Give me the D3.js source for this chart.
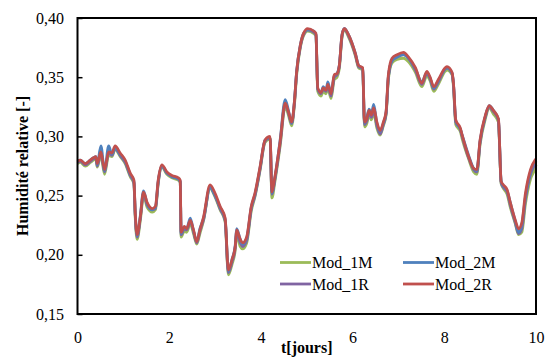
<!DOCTYPE html>
<html>
<head>
<meta charset="utf-8">
<script src="https://cdn.jsdelivr.net/npm/d3@7"></script>
<style>
  html, body { margin: 0; padding: 0; background: #fff; }
  svg { display: block; }
</style>
</head>
<body>
<svg id="chart" width="545" height="360"></svg>
<script>
// Time in days
const days = [
  0, 0.06, 0.17, 0.28, 0.35, 0.40, 0.43, 0.51, 0.59, 0.68,
  0.75, 0.82, 0.93, 1.04, 1.15, 1.23, 1.26, 1.30, 1.37, 1.44,
  1.52, 1.63, 1.70, 1.76, 1.84, 1.95, 2.06, 2.20, 2.24, 2.26,
  2.33, 2.38, 2.46, 2.53, 2.60, 2.67, 2.75, 2.89, 3.00, 3.11,
  3.22, 3.29, 3.37, 3.44, 3.47, 3.55, 3.60, 3.69, 3.79, 3.87,
  3.98, 4.09, 4.20, 4.24, 4.31, 4.42, 4.53, 4.60, 4.67, 4.73,
  4.78, 4.86, 4.93, 5.02, 5.15, 5.20, 5.24, 5.31, 5.36, 5.42,
  5.46, 5.53, 5.60, 5.66, 5.71, 5.77, 5.82, 5.91, 6.06, 6.13,
  6.22, 6.26, 6.31, 6.36, 6.41, 6.46, 6.53, 6.60, 6.67, 6.73,
  6.78, 6.86, 6.97, 7.11, 7.22, 7.37, 7.51, 7.62, 7.69, 7.77,
  7.87, 8.02, 8.06, 8.17, 8.20, 8.25, 8.35, 8.39, 8.53, 8.64,
  8.71, 8.78, 8.89, 8.98, 9.07, 9.18, 9.24, 9.29, 9.37, 9.44,
  9.55, 9.62, 9.69, 9.77, 9.88, 9.98, 10.0
];

const mod1M = [
  0.277, 0.278, 0.275, 0.278, 0.280, 0.281, 0.274, 0.284, 0.268, 0.284,
  0.283, 0.289, 0.283, 0.277, 0.266, 0.260, 0.231, 0.213, 0.229, 0.250,
  0.240, 0.236, 0.238, 0.260, 0.274, 0.268, 0.265, 0.263, 0.261, 0.215,
  0.220, 0.219, 0.226, 0.218, 0.209, 0.218, 0.229, 0.256, 0.249, 0.238,
  0.228, 0.183, 0.192, 0.204, 0.217, 0.207, 0.205, 0.210, 0.237, 0.249,
  0.271, 0.295, 0.298, 0.248, 0.263, 0.292, 0.325, 0.318, 0.309, 0.326,
  0.352, 0.375, 0.385, 0.389, 0.387, 0.385, 0.338, 0.334, 0.338, 0.336,
  0.341, 0.332, 0.348, 0.350, 0.357, 0.384, 0.390, 0.384, 0.368, 0.358,
  0.356, 0.308, 0.311, 0.318, 0.314, 0.320, 0.307, 0.301, 0.309, 0.318,
  0.348, 0.362, 0.365, 0.366, 0.363, 0.354, 0.342, 0.351, 0.347, 0.338,
  0.344, 0.355, 0.356, 0.352, 0.342, 0.310, 0.304, 0.298, 0.281, 0.270,
  0.268, 0.293, 0.314, 0.324, 0.319, 0.312, 0.260, 0.256, 0.251, 0.240,
  0.226, 0.217, 0.219, 0.243, 0.264, 0.273, 0.276
];

const mod1R = [
  0.278, 0.279, 0.276, 0.279, 0.281, 0.282, 0.275, 0.286, 0.270, 0.286,
  0.284, 0.290, 0.284, 0.278, 0.267, 0.261, 0.233, 0.215, 0.231, 0.252,
  0.242, 0.238, 0.239, 0.261, 0.275, 0.269, 0.266, 0.264, 0.262, 0.217,
  0.222, 0.221, 0.228, 0.220, 0.210, 0.220, 0.230, 0.257, 0.250, 0.239,
  0.229, 0.185, 0.194, 0.206, 0.219, 0.210, 0.207, 0.212, 0.239, 0.250,
  0.272, 0.296, 0.299, 0.251, 0.265, 0.294, 0.327, 0.320, 0.311, 0.328,
  0.354, 0.376, 0.386, 0.390, 0.388, 0.386, 0.340, 0.336, 0.340, 0.338,
  0.343, 0.334, 0.350, 0.352, 0.359, 0.385, 0.391, 0.385, 0.369, 0.359,
  0.357, 0.310, 0.313, 0.320, 0.316, 0.322, 0.309, 0.302, 0.310, 0.319,
  0.350, 0.364, 0.367, 0.369, 0.366, 0.356, 0.344, 0.353, 0.349, 0.340,
  0.346, 0.357, 0.358, 0.353, 0.344, 0.312, 0.306, 0.300, 0.282, 0.272,
  0.270, 0.295, 0.316, 0.325, 0.321, 0.314, 0.261, 0.257, 0.253, 0.242,
  0.227, 0.218, 0.222, 0.247, 0.268, 0.277, 0.279
];

const mod2M = [
  0.279, 0.280, 0.277, 0.280, 0.282, 0.283, 0.276, 0.292, 0.271, 0.292,
  0.285, 0.290, 0.285, 0.279, 0.268, 0.262, 0.234, 0.216, 0.233, 0.254,
  0.243, 0.238, 0.240, 0.262, 0.275, 0.269, 0.266, 0.264, 0.262, 0.218,
  0.223, 0.222, 0.231, 0.220, 0.211, 0.222, 0.231, 0.257, 0.250, 0.240,
  0.230, 0.186, 0.196, 0.208, 0.222, 0.213, 0.209, 0.214, 0.240, 0.251,
  0.273, 0.297, 0.299, 0.252, 0.266, 0.297, 0.331, 0.322, 0.311, 0.329,
  0.355, 0.377, 0.387, 0.390, 0.389, 0.386, 0.340, 0.337, 0.342, 0.339,
  0.346, 0.336, 0.351, 0.353, 0.360, 0.386, 0.391, 0.386, 0.370, 0.360,
  0.357, 0.311, 0.316, 0.323, 0.319, 0.327, 0.311, 0.304, 0.311, 0.320,
  0.350, 0.364, 0.367, 0.369, 0.366, 0.357, 0.346, 0.354, 0.349, 0.341,
  0.347, 0.357, 0.358, 0.353, 0.344, 0.313, 0.306, 0.301, 0.284, 0.273,
  0.271, 0.296, 0.316, 0.326, 0.322, 0.314, 0.262, 0.258, 0.254, 0.244,
  0.228, 0.219, 0.225, 0.249, 0.270, 0.279, 0.280
];

const mod2R = [
  0.279, 0.280, 0.277, 0.280, 0.282, 0.283, 0.277, 0.287, 0.272, 0.287,
  0.286, 0.292, 0.286, 0.280, 0.269, 0.263, 0.235, 0.217, 0.232, 0.253,
  0.244, 0.239, 0.241, 0.263, 0.276, 0.270, 0.267, 0.265, 0.263, 0.219,
  0.224, 0.222, 0.229, 0.221, 0.211, 0.221, 0.232, 0.259, 0.252, 0.241,
  0.231, 0.187, 0.196, 0.207, 0.221, 0.213, 0.210, 0.215, 0.241, 0.252,
  0.274, 0.297, 0.300, 0.253, 0.267, 0.296, 0.328, 0.321, 0.312, 0.329,
  0.355, 0.377, 0.387, 0.391, 0.389, 0.387, 0.341, 0.337, 0.341, 0.339,
  0.344, 0.336, 0.352, 0.353, 0.360, 0.386, 0.391, 0.386, 0.370, 0.360,
  0.358, 0.312, 0.315, 0.322, 0.318, 0.324, 0.312, 0.305, 0.312, 0.321,
  0.352, 0.366, 0.369, 0.371, 0.367, 0.358, 0.345, 0.355, 0.350, 0.342,
  0.348, 0.358, 0.359, 0.354, 0.345, 0.314, 0.307, 0.301, 0.283, 0.273,
  0.272, 0.297, 0.317, 0.326, 0.322, 0.315, 0.262, 0.259, 0.255, 0.244,
  0.229, 0.222, 0.227, 0.252, 0.272, 0.280, 0.281
];

const xTicks = [0, 2, 4, 6, 8, 10];
const yTicks = [0.15, 0.20, 0.25, 0.30, 0.35, 0.40];

// Drawing order: later series sit on top
const series = [
  { name: "Mod_1M", values: mod1M, color: "#9BBB59" },
  { name: "Mod_1R", values: mod1R, color: "#8064A2" },
  { name: "Mod_2M", values: mod2M, color: "#4F81BD" },
  { name: "Mod_2R", values: mod2R, color: "#C0504D" }
];
const legendOrder = ["Mod_1M", "Mod_2M", "Mod_1R", "Mod_2R"];

const FONT = "'Liberation Serif', 'Times New Roman', Times, serif";

const svg = d3.select("#chart");
const margin = { left: 77.5, right: 9, top: 18, bottom: 46 };
const W = 545, H = 360;

const x = d3.scaleLinear().domain([0, 10]).range([margin.left, W - margin.right]);
const y = d3.scaleLinear().domain([0.15, 0.40]).range([H - margin.bottom, margin.top]);

const fmt = v => d3.format(".2f")(v).replace(".", ",");

// Series lines
const line = d3.line()
  .x((d, i) => x(days[i]))
  .y(d => y(d))
  .curve(d3.curveMonotoneX);

const gLines = svg.append("g");
series.forEach(s => {
  gLines.append("path")
    .datum(s.values)
    .attr("fill", "none")
    .attr("stroke", s.color)
    .attr("stroke-width", 2.8)
    .attr("stroke-linejoin", "round")
    .attr("d", line);
});

// Y axis: inward ticks, labels on the left
const yAxis = d3.axisRight(y).tickValues(yTicks).tickSize(5).tickFormat("");
const gy = svg.append("g").attr("transform", `translate(${margin.left},0)`).call(yAxis);
gy.select(".domain").remove();
gy.selectAll(".tick line").attr("stroke", "#000").attr("stroke-width", 1.5);

svg.append("g").selectAll("text")
  .data(yTicks)
  .join("text")
  .attr("x", 64)
  .attr("y", d => y(d))
  .attr("dy", "0.35em")
  .attr("text-anchor", "end")
  .style("font-family", FONT)
  .style("font-size", "16px")
  .attr("fill", "#000")
  .text(fmt);

// X axis labels (no tick marks)
const xAxis = d3.axisBottom(x).tickValues(xTicks).tickSize(0).tickPadding(18).tickFormat(d3.format("d"));
const gx = svg.append("g").attr("transform", `translate(0,${y(0.15)})`).call(xAxis);
gx.select(".domain").remove();
gx.selectAll(".tick text")
  .style("font-family", FONT)
  .style("font-size", "16px")
  .attr("fill", "#000");

// Plot frame
svg.append("rect")
  .attr("x", x(0))
  .attr("y", y(0.40))
  .attr("width", x(10) - x(0))
  .attr("height", y(0.15) - y(0.40))
  .attr("fill", "none")
  .attr("stroke", "#000")
  .attr("stroke-width", 2);

// Axis titles
svg.append("text")
  .attr("x", (x(0) + x(10)) / 2)
  .attr("y", 353)
  .attr("text-anchor", "middle")
  .style("font-family", FONT)
  .style("font-size", "16px")
  .style("font-weight", "bold")
  .text("t[jours]");

svg.append("text")
  .attr("transform", `translate(28,${(y(0.15) + y(0.40)) / 2}) rotate(-90)`)
  .attr("text-anchor", "middle")
  .style("font-family", FONT)
  .style("font-size", "16px")
  .style("font-weight", "bold")
  .text("Humidité relative [-]");

// Legend in two columns
const legendPos = [
  { lx: 280, ly: 262.5 }, { lx: 403, ly: 262.5 },
  { lx: 280, ly: 284 },   { lx: 403, ly: 284 }
];
const gLeg = svg.append("g");
legendOrder.forEach((name, i) => {
  const s = series.find(d => d.name === name);
  const p = legendPos[i];
  gLeg.append("line")
    .attr("x1", p.lx).attr("x2", p.lx + 31)
    .attr("y1", p.ly).attr("y2", p.ly)
    .attr("stroke", s.color)
    .attr("stroke-width", 2.8);
  gLeg.append("text")
    .attr("x", p.lx + 32)
    .attr("y", p.ly)
    .attr("dy", "0.35em")
    .style("font-family", FONT)
    .style("font-size", "16px")
    .text(name);
});
</script>
</body>
</html>
